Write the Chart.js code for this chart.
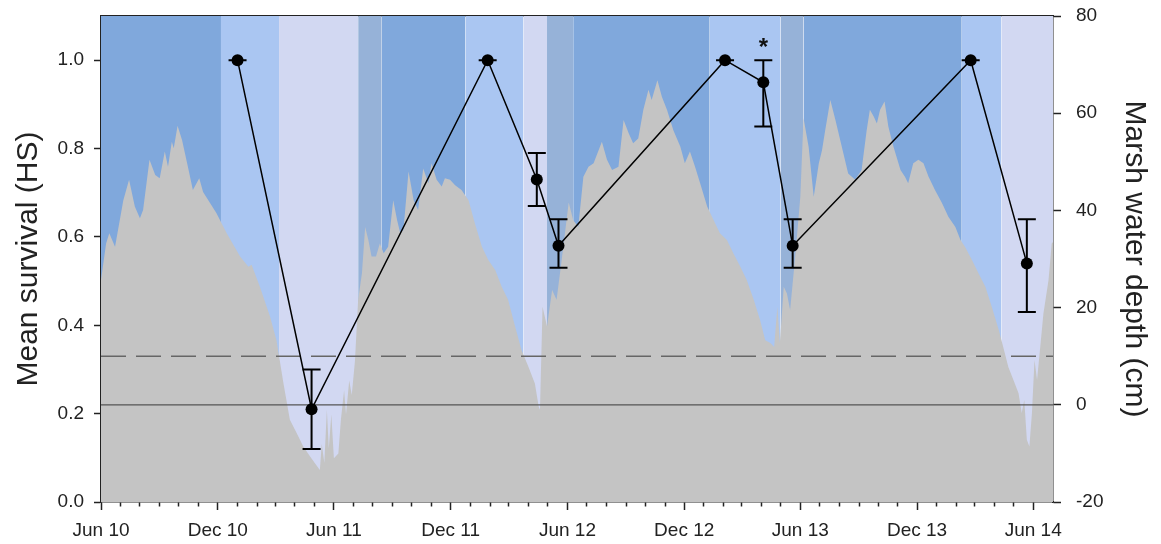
<!DOCTYPE html>
<html>
<head>
<meta charset="utf-8">
<title>Survival and marsh water depth</title>
<script src="https://cdn.jsdelivr.net/npm/chart.js@4.4.1/dist/chart.umd.min.js"></script>
<style>
  html, body { margin: 0; padding: 0; background: #ffffff; }
  #wrap { width: 1161px; height: 544px; }
</style>
</head>
<body>
<div id="wrap"><canvas id="chart" width="1161" height="544"></canvas></div>
<script>
// Day numbers are counted from 1 June 2010 (UTC).
const ORIGIN = Date.UTC(2010, 5, 1);
const dayOf = s => Math.round((Date.parse(s + 'T00:00:00Z') - ORIGIN) / 86400000);

// Survey dates and mean survival with its error range
const surveyDates   = ['2011-01-01', '2011-04-27', '2012-01-28', '2012-04-14', '2012-05-18',
                       '2013-02-03', '2013-04-04', '2013-05-20', '2014-02-23', '2014-05-22'];
const survival      = [1.00, 0.21, 1.00, 0.73, 0.58, 1.00, 0.95, 0.58, 1.00, 0.54];
const survivalUpper = [1.00, 0.30, 1.00, 0.79, 0.64, 1.00, 1.00, 0.64, 1.00, 0.64];
const survivalLower = [1.00, 0.12, 1.00, 0.67, 0.53, 1.00, 0.85, 0.53, 1.00, 0.43];
const significant   = [false, false, false, false, false, false, true, false, false, false];

// Hydrologic periods shaded behind the record
const periodStart = ['2010-06-01', '2010-12-06', '2011-03-07', '2011-07-09', '2011-08-15',
                     '2011-12-24', '2012-03-24', '2012-04-30', '2012-06-10', '2013-01-10',
                     '2013-05-01', '2013-06-06', '2014-02-09', '2014-04-12'];
const periodType  = ['wet', 'early dry', 'late dry', 'reflooding', 'wet',
                     'early dry', 'late dry', 'reflooding', 'wet', 'early dry',
                     'reflooding', 'wet', 'early dry', 'late dry'];
const recordEnd   = '2014-07-02';

// Marsh water depth record (cm), sampled at the given day numbers
const depthDay = [0, 8, 13, 22, 35, 44, 53, 61, 66, 76,
  85, 92, 100, 105, 111, 114, 120, 127, 135, 144,
  154, 160, 181, 197, 218, 231, 236, 249, 265, 275,
  286, 296, 307, 317, 328, 335, 343, 346, 350, 354,
  357, 361, 365, 372, 376, 381, 384, 389, 393, 398,
  403, 409, 414, 419, 424, 431, 437, 443, 450, 458,
  464, 469, 474, 482, 490, 497, 505, 513, 518, 526,
  534, 539, 547, 555, 565, 576, 586, 597, 607, 618,
  628, 638, 649, 659, 670, 680, 686, 688, 692, 699,
  707, 714, 722, 733, 740, 748, 756, 764, 772, 785,
  793, 801, 811, 819, 827, 834, 842, 850, 858, 863,
  872, 879, 887, 897, 908, 915, 923, 931, 939, 950,
  960, 970, 981, 991, 1002, 1012, 1023, 1033, 1041, 1049,
  1055, 1060, 1064, 1070, 1075, 1080, 1088, 1096, 1101, 1109,
  1117, 1125, 1130, 1135, 1143, 1151, 1161, 1171, 1182, 1192,
  1200, 1205, 1211, 1216, 1221, 1228, 1234, 1242, 1253, 1260,
  1265, 1273, 1281, 1289, 1297, 1307, 1318, 1328, 1339, 1347,
  1354, 1365, 1375, 1386, 1396, 1407, 1414, 1422, 1430, 1438,
  1443, 1447, 1451, 1455, 1459, 1463, 1467, 1472, 1477, 1485,
  1490, 1492];
const depthCm = [25.7, 33.2, 35.3, 32.5, 42.1, 46.3, 40.8, 38.4, 40.1, 50.4,
  47.3, 46.6, 52.1, 49.0, 54.1, 52.8, 57.4, 54.5, 49.7, 44.2,
  46.6, 43.8, 39.4, 35.3, 30.5, 28.4, 28.8, 24.3, 18.1, 13.3,
  4.4, -3.1, -5.9, -8.6, -10.7, -12.0, -13.4, -8.0, -12.0, -1.0,
  -9.0, -2.0, -11.0, -10.0, -3.0, 3.0, -2.0, 5.0, 2.0, 9.0,
  21.6, 27.1, 36.6, 33.9, 30.5, 30.5, 33.2, 31.2, 32.5, 42.1,
  38.0, 35.3, 36.0, 48.0, 42.1, 40.1, 48.6, 45.6, 49.7, 46.3,
  44.9, 46.6, 46.3, 45.2, 44.2, 42.1, 37.3, 32.5, 29.8, 27.7,
  24.3, 21.6, 16.1, 11.3, 7.8, 4.4, -0.4, -1.0, 20.2, 16.1,
  23.6, 21.6, 29.8, 41.6, 38.0, 36.6, 46.9, 49.0, 49.7, 54.1,
  50.4, 48.3, 49.0, 58.6, 55.9, 53.8, 54.8, 60.7, 64.8, 62.7,
  66.8, 63.4, 60.7, 56.5, 53.1, 49.7, 52.1, 49.0, 45.6, 40.8,
  38.0, 35.3, 33.9, 31.2, 28.4, 25.7, 21.6, 17.4, 13.3, 12.7,
  11.9, 20.2, 12.7, 24.3, 22.9, 19.5, 30.5, 42.8, 59.0, 53.1,
  42.8, 49.7, 52.4, 56.5, 62.7, 58.6, 53.1, 47.6, 46.3, 48.3,
  56.5, 60.7, 59.3, 57.9, 60.7, 62.4, 57.2, 53.1, 48.3, 46.9,
  45.6, 49.7, 50.4, 49.7, 46.9, 44.2, 41.5, 38.7, 36.6, 33.9,
  32.5, 29.8, 27.1, 24.3, 20.2, 15.4, 11.9, 7.8, 5.1, 2.4,
  -1.7, 1.0, -7.2, -8.6, -1.7, 9.2, 5.1, 11.9, 18.8, 25.7,
  33.2, 33.5];

// Reference depths (cm)
const thresholdDepth = 10;
const groundLevel = 0;

// Axis ticks
const xTickDates  = ['2010-06-01', '2010-12-01', '2011-06-01', '2011-12-01', '2012-06-01',
                     '2012-12-01', '2013-06-01', '2013-12-01', '2014-06-01'];
const xTickLabels = ['Jun 10', 'Dec 10', 'Jun 11', 'Dec 11', 'Jun 12',
                     'Dec 12', 'Jun 13', 'Dec 13', 'Jun 14'];
const survivalTicks = [0, 0.2, 0.4, 0.6, 0.8, 1.0];
const depthTicks = [-20, 0, 20, 40, 60, 80];

const periodColor = {
  'wet': '#80a8dc',
  'early dry': '#aac6f2',
  'late dry': '#d2d8f2',
  'reflooding': '#96b2d8'
};

const FONT = "'Liberation Sans', Arial, Helvetica, sans-serif";
const INK = '#222222';

const xMax = dayOf(recordEnd);
const surveyDays = surveyDates.map(dayOf);
const majorDays = xTickDates.map(dayOf);
const labelByDay = new Map(majorDays.map((d, i) => [d, xTickLabels[i]]));

// month starts for the minor tick marks
const monthDays = [];
for (let y = 2010, m = 5; y < 2014 || (y === 2014 && m <= 5); ) {
  monthDays.push(Math.round((Date.UTC(y, m, 1) - ORIGIN) / 86400000));
  m++; if (m > 11) { m = 0; y++; }
}

// fixed axis box sizes; label overhang is kept out of the layout
const fixBox = (w, h) => s => {
  if (w !== null) s.width = w;
  if (h !== null) s.height = h;
  s.paddingTop = 0; s.paddingBottom = 0; s.paddingLeft = 0; s.paddingRight = 0;
};

const datasets = [];

// survival line (on top)
datasets.push({
  type: 'line',
  label: 'Mean survival',
  yAxisID: 'ySurv',
  data: surveyDays.map((d, i) => ({ x: d, y: survival[i] })),
  borderColor: '#000000',
  borderWidth: 1.5,
  pointRadius: 6,
  pointBackgroundColor: '#000000',
  pointBorderWidth: 0,
  fill: false,
  order: 0
});

// reference depth lines
datasets.push({
  type: 'line', label: 'threshold', yAxisID: 'yDepth',
  data: [{ x: 0, y: thresholdDepth }, { x: xMax, y: thresholdDepth }],
  borderColor: '#666666', borderWidth: 1.5, borderDash: [25, 10],
  pointRadius: 0, fill: false, order: 1
});
datasets.push({
  type: 'line', label: 'ground', yAxisID: 'yDepth',
  data: [{ x: 0, y: groundLevel }, { x: xMax, y: groundLevel }],
  borderColor: '#555555', borderWidth: 1.3,
  pointRadius: 0, fill: false, order: 1
});

// water depth area
datasets.push({
  type: 'line', label: 'Marsh water depth', yAxisID: 'yDepth',
  data: depthDay.map((d, i) => ({ x: d, y: depthCm[i] })),
  borderWidth: 0, borderColor: 'rgba(0,0,0,0)',
  backgroundColor: '#c4c4c4',
  pointRadius: 0, fill: 'start', tension: 0, order: 2
});

// hydrologic period bands spanning the full depth scale
periodStart.forEach((s, i) => {
  const a = dayOf(s);
  const b = i + 1 < periodStart.length ? dayOf(periodStart[i + 1]) : xMax;
  datasets.push({
    type: 'line', label: periodType[i], yAxisID: 'yDepth',
    data: [{ x: a, y: 80 }, { x: b, y: 80 }],
    borderWidth: 0, borderColor: 'rgba(0,0,0,0)',
    backgroundColor: periodColor[periodType[i]],
    pointRadius: 0, fill: 'start', order: 3
  });
});

// error bars and significance marks on the survival points
const errorBars = {
  id: 'errorBars',
  afterDatasetsDraw(chart) {
    const xs = chart.scales.x, ys = chart.scales.ySurv, ctx = chart.ctx;
    ctx.save();
    ctx.strokeStyle = '#000000';
    ctx.lineWidth = 2;
    surveyDays.forEach((d, i) => {
      const px = xs.getPixelForValue(d);
      const top = ys.getPixelForValue(survivalUpper[i]);
      const bot = ys.getPixelForValue(survivalLower[i]);
      ctx.beginPath();
      ctx.moveTo(px, top); ctx.lineTo(px, bot);
      ctx.moveTo(px - 9, top); ctx.lineTo(px + 9, top);
      ctx.moveTo(px - 9, bot); ctx.lineTo(px + 9, bot);
      ctx.stroke();
      if (significant[i]) {
        ctx.fillStyle = '#111111';
        ctx.font = 'bold 24px ' + FONT;
        ctx.textAlign = 'center';
        ctx.textBaseline = 'alphabetic';
        ctx.fillText('*', px, top - 5);
      }
    });
    ctx.restore();
  }
};

const tickFont = { family: FONT, size: 19 };
const titleFont = { family: FONT, size: 30 };

new Chart(document.getElementById('chart'), {
  data: { datasets },
  plugins: [errorBars],
  options: {
    responsive: false,
    animation: false,
    devicePixelRatio: 1,
    events: [],
    layout: { padding: { top: 16, left: 0, right: 0, bottom: 0 } },
    plugins: { legend: { display: false }, tooltip: { enabled: false } },
    scales: {
      x: {
        type: 'linear', position: 'bottom', min: 0, max: xMax,
        afterBuildTicks: s => { s.ticks = monthDays.map(v => ({ value: v })); },
        afterFit: fixBox(null, 42),
        ticks: {
          autoSkip: false, maxRotation: 0, minRotation: 0, padding: 9,
          color: INK, font: tickFont,
          callback: v => labelByDay.has(v) ? labelByDay.get(v) : ''
        },
        grid: {
          drawOnChartArea: false, tickLength: 8, tickColor: INK, tickWidth: 1.5,
          tickBorderDash: ctx => (ctx.tick && labelByDay.has(ctx.tick.value)) ? [] : [4, 40]
        },
        border: { color: INK, width: 1.5 }
      },
      xTop: {
        type: 'linear', position: 'top', min: 0, max: xMax,
        afterFit: fixBox(null, 0),
        ticks: { display: false },
        grid: { drawOnChartArea: false, drawTicks: false },
        border: { color: INK, width: 1.5 }
      },
      ySurv: {
        type: 'linear', position: 'left', min: 0, max: 1.1,
        afterBuildTicks: s => { s.ticks = survivalTicks.map(v => ({ value: v })); },
        afterFit: fixBox(101, null),
        ticks: { padding: 10, color: INK, font: tickFont, callback: v => Number(v).toFixed(1) },
        grid: { drawOnChartArea: false, tickLength: 7, tickColor: INK, tickWidth: 1.5 },
        border: { color: INK, width: 1.5 },
        title: { display: true, text: 'Mean survival (HS)', color: INK, font: titleFont, padding: { top: 11, bottom: 0 } }
      },
      yDepth: {
        type: 'linear', position: 'right', min: -20, max: 80,
        afterBuildTicks: s => { s.ticks = depthTicks.map(v => ({ value: v })); },
        afterFit: fixBox(108, null),
        ticks: { padding: 15, color: INK, font: tickFont, callback: v => String(v) },
        grid: { drawOnChartArea: false, tickLength: 8, tickColor: INK, tickWidth: 1.5 },
        border: { color: INK, width: 1.5 },
        title: { display: true, text: 'Marsh water depth (cm)', color: INK, font: titleFont, padding: { top: 9, bottom: 0 } }
      }
    }
  }
});
</script>
</body>
</html>
